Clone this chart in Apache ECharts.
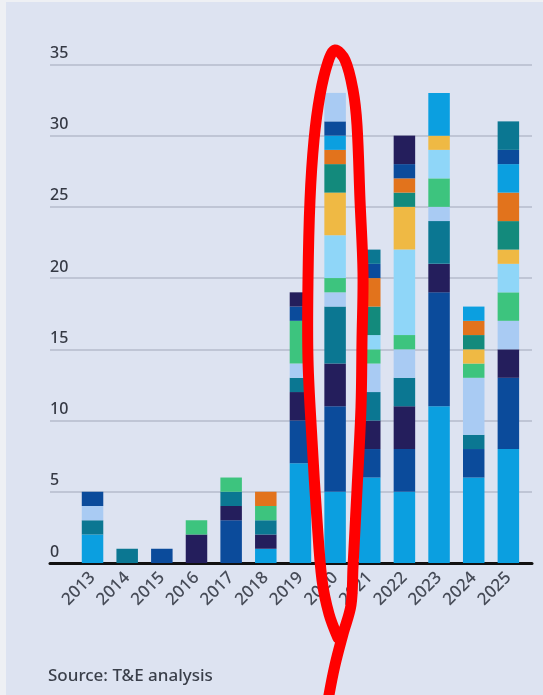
<!DOCTYPE html>
<html>
<head>
    <meta charset="utf-8">
    <title></title>
    <style type="text/css">
        html,
        body {
            height: 100%;
            margin: 0;
            padding: 0;
        }

        #main {
            width: 543px;
            height: 695px;
        }
    </style>
</head>

<body>
    <div id="main"></div>
    <script src="https://cdn.jsdelivr.net/npm/echarts/dist/echarts.min.js"></script>
    <script type="text/javascript">
        // years on the x axis
        var years = ['2013', '2014', '2015', '2016', '2017', '2018', '2019', '2020', '2021', '2022', '2023', '2024', '2025'];
        var yTicks = [0, 5, 10, 15, 20, 25, 30, 35];

        // stacked segments, bottom to top (palette repeats after 10)
        var s1 = [2, 0, 0, 0, 0, 1, 7, 5, 6, 5, 11, 6, 8];
        var s2 = [0, 0, 1, 0, 3, 0, 3, 6, 2, 3, 8, 2, 5];
        var s3 = [0, 0, 0, 2, 1, 1, 2, 3, 2, 3, 2, 0, 2];
        var s4 = [1, 1, 0, 0, 1, 1, 1, 4, 2, 2, 3, 1, 0];
        var s5 = [1, 0, 0, 0, 0, 0, 1, 1, 2, 2, 1, 4, 2];
        var s6 = [0, 0, 0, 1, 1, 1, 3, 1, 1, 1, 2, 1, 2];
        var s7 = [0, 0, 0, 0, 0, 0, 0, 3, 1, 6, 2, 0, 2];
        var s8 = [0, 0, 0, 0, 0, 0, 0, 3, 0, 3, 1, 1, 1];
        var s9 = [0, 0, 0, 0, 0, 0, 0, 2, 2, 1, 0, 1, 2];
        var s10 = [0, 0, 0, 0, 0, 1, 0, 1, 2, 1, 0, 1, 2];
        var s11 = [0, 0, 0, 0, 0, 0, 0, 1, 0, 0, 3, 1, 2];
        var s12 = [1, 0, 0, 0, 0, 0, 1, 1, 1, 1, 0, 0, 1];
        var s13 = [0, 0, 0, 0, 0, 0, 1, 0, 0, 2, 0, 0, 0];
        var s14 = [0, 0, 0, 0, 0, 0, 0, 0, 1, 0, 0, 0, 2];
        var s15 = [0, 0, 0, 0, 0, 0, 0, 2, 0, 0, 0, 0, 0];

        var segments = [s1, s2, s3, s4, s5, s6, s7, s8, s9, s10, s11, s12, s13, s14, s15];
        var palette = ['#0b9fe0', '#0b4b9b', '#241e5c', '#0b7792', '#a9cbf3',
            '#3dc47e', '#8fd6f8', '#efb944', '#138a7c', '#e2731c'];

        var font = '"Noto Sans", "Open Sans", sans-serif';
        var myChart;

        window.onload = function() {
            myChart = echarts.init(document.getElementById("main"));

            var series = segments.map(function(arr, i) {
                return {
                    name: 'Series ' + (i + 1),
                    type: 'bar',
                    stack: 'total',
                    xAxisIndex: 1,
                    yAxisIndex: 1,
                    barWidth: 21.5,
                    itemStyle: { color: palette[i % palette.length] },
                    data: arr
                };
            });

            myChart.setOption({
                animation: false,
                backgroundColor: '#eef0f4',
                textStyle: { fontFamily: font },
                // grid 0 carries the gridlines and the baseline, grid 1 the bars
                grid: [{
                    left: 50,
                    right: 11,
                    top: 64.4,
                    bottom: 132
                }, {
                    left: 75.2,
                    right: 17.3,
                    top: 64.4,
                    bottom: 132
                }],
                xAxis: [{
                    type: 'value',
                    gridIndex: 0,
                    min: 0,
                    max: 1,
                    splitLine: { show: false },
                    axisTick: { show: false },
                    axisLabel: { show: false },
                    axisLine: {
                        show: true,
                        lineStyle: { color: '#111111', width: 3 }
                    }
                }, {
                    type: 'category',
                    gridIndex: 1,
                    data: years,
                    axisLine: { show: false },
                    axisTick: { show: false },
                    axisLabel: {
                        rotate: 45,
                        margin: 12,
                        fontSize: 17,
                        fontWeight: 500,
                        color: '#464b57',
                        fontFamily: font
                    }
                }],
                yAxis: [{
                    type: 'value',
                    gridIndex: 0,
                    min: yTicks[0],
                    max: yTicks[yTicks.length - 1],
                    interval: 5,
                    axisLine: { show: false },
                    axisTick: { show: false },
                    splitLine: {
                        lineStyle: { color: '#b4bbcb', width: 1.5 }
                    },
                    axisLabel: {
                        inside: true,
                        margin: 0,
                        verticalAlign: 'bottom',
                        padding: [0, 0, 3, 0],
                        fontSize: 16,
                        fontWeight: 500,
                        color: '#353944',
                        fontFamily: font
                    }
                }, {
                    type: 'value',
                    gridIndex: 1,
                    min: yTicks[0],
                    max: yTicks[yTicks.length - 1],
                    interval: 5,
                    show: false
                }],
                series: series,
                graphic: [{
                    type: 'rect',
                    left: 6,
                    top: 2,
                    z: -100,
                    shape: { width: 537, height: 693 },
                    style: { fill: '#dde3f1' }
                }, {
                    type: 'text',
                    left: 48,
                    top: 668,
                    style: {
                        text: 'Source: T&E analysis',
                        fill: '#3a3f4a',
                        font: '500 17px ' + font
                    }
                }, {
                    type: 'polyline',
                    z: 100,
                    shape: {
                        smooth: 0.35,
                        points: [[338, 638], [329, 614], [322, 580], [317, 520], [312, 440],
                            [308, 360], [308, 280], [310, 200], [314, 140], [320, 95],
                            [328, 62], [335, 50], [345, 60], [353, 90], [357, 125],
                            [360, 200], [363, 273], [362, 340], [361, 407], [357, 490],
                            [353, 567], [351, 605], [343, 634], [335, 665], [329, 695],
                            [327, 710]]
                    },
                    style: {
                        stroke: '#ff0000',
                        lineWidth: 11,
                        lineCap: 'round',
                        lineJoin: 'round',
                        fill: null
                    }
                }]
            });
        };
    </script>
</body>
</html>
